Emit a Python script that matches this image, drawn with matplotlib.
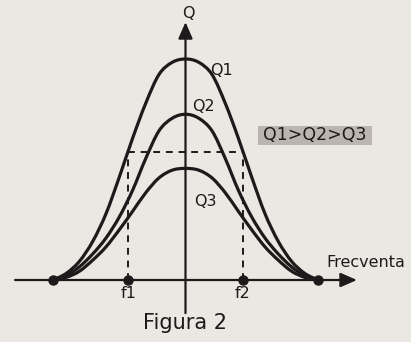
import numpy as np
import matplotlib
matplotlib.use("Agg")
import matplotlib.pyplot as plt
from matplotlib.path import Path
from matplotlib.patches import PathPatch, Rectangle

# Resonance curves Q1 > Q2 > Q3 (frequency in arbitrary units, resonance at 5)
freq = [0, 0.5, 1, 1.5, 2, 2.5, 3, 3.5, 4, 4.5, 5, 5.5, 6, 6.5, 7, 7.5, 8, 8.5, 9, 9.5, 10]
q1_v = [0, 0.3, 0.85, 1.75, 3.0, 4.65, 6.4, 8.0, 9.3, 9.85, 10,
        9.85, 9.3, 8.0, 6.4, 4.65, 3.0, 1.75, 0.85, 0.3, 0]
q2_v = [0, 0.2, 0.6, 1.18, 1.9, 2.85, 4.05, 5.5, 6.75, 7.32, 7.5,
        7.32, 6.75, 5.5, 4.05, 2.85, 1.9, 1.18, 0.6, 0.2, 0]
q3_v = [0, 0.12, 0.4, 0.9, 1.5, 2.27, 3.1, 3.95, 4.62, 4.97, 5.05,
        4.97, 4.62, 3.95, 3.1, 2.27, 1.5, 0.9, 0.4, 0.12, 0]

curve_names = ["Q1", "Q2", "Q3"]

# band edges and the level they mark on Q1
f1, f2 = 2.84, 7.16
band_level = 5.8
band_ends = [0, 10]

paper = "#ebe7e2"
ink = "#1c1a1a"


def smooth_path(xs, ys):
    # Catmull-Rom through the points, drawn as cubic Bezier segments
    pts = np.column_stack([xs, ys]).astype(float)
    pts_ext = np.vstack([pts[0], pts, pts[-1]])
    verts = [pts[0]]
    codes = [Path.MOVETO]
    for i in range(len(pts) - 1):
        p0, p1, p2, p3 = pts_ext[i], pts_ext[i + 1], pts_ext[i + 2], pts_ext[i + 3]
        verts += [p1 + (p2 - p0) / 6, p2 - (p3 - p1) / 6, p2]
        codes += [Path.CURVE4] * 3
    return Path(verts, codes)


fig = plt.figure(figsize=(4.11, 3.42), dpi=100)
fig.patch.set_facecolor(paper)
ax = fig.add_axes([0, 0, 1, 1])
ax.set_facecolor(paper)
ax.set_xlim(-2.0, 13.51)
ax.set_ylim(-2.805, 12.67)
ax.axis("off")

# axes with arrow heads
arrow = dict(arrowstyle="-|>,head_length=0.55,head_width=0.24", color=ink, lw=1.6,
             shrinkA=0, shrinkB=0, mutation_scale=18)
ax.annotate("", xy=(11.47, 0), xytext=(-1.43, 0), arrowprops=arrow)
ax.annotate("", xy=(5, 11.67), xytext=(5, -1.5), arrowprops=arrow)

# dashed band marks
dash = dict(ls=(0, (3.5, 3)), color=ink, lw=1.4)
ax.plot([f1, f1], [0, band_level], **dash)
ax.plot([f2, f2], [0, band_level], **dash)
ax.plot([f1, f2], [band_level, band_level], **dash)

# the three curves
for ys in [q1_v, q2_v, q3_v]:
    ax.add_patch(PathPatch(smooth_path(freq, ys), fill=False, edgecolor=ink, lw=2.3,
                           capstyle="round", joinstyle="round"))

# dots on the frequency axis
ax.plot(band_ends + [f1, f2], [0] * 4, "o", color=ink, ms=6.5)

txt = dict(color=ink, fontsize=11.5, family="DejaVu Sans")
ax.text(6.34, 9.46, curve_names[0], ha="center", va="center", **txt)
ax.text(5.66, 7.87, curve_names[1], ha="center", va="center", **txt)
ax.text(5.74, 3.57, curve_names[2], ha="center", va="center", **txt)
ax.text(5.1, 12.08, "Q", ha="center", va="center", **txt)
ax.text(10.3, 0.8, "Frecventa", ha="left", va="center", **txt)
ax.text(f1, -0.6, "f1", ha="center", va="center", **txt)
ax.text(f2, -0.6, "f2", ha="center", va="center", **txt)
ax.text(5, -1.95, "Figura 2", ha="center", va="center", color=ink, fontsize=15,
        family="DejaVu Sans")

# legend box  Q1>Q2>Q3
ax.add_patch(Rectangle((258 / 411, 1 - 145 / 342), 114 / 411, 19 / 342,
                       transform=ax.transAxes, facecolor="#bab5af", edgecolor="none"))
ax.text(315 / 411, 1 - 135.5 / 342, "Q1>Q2>Q3", transform=ax.transAxes,
        ha="center", va="center", color=ink, fontsize=12.5, family="DejaVu Sans")

fig.savefig("out.png", dpi=100, facecolor=paper)
